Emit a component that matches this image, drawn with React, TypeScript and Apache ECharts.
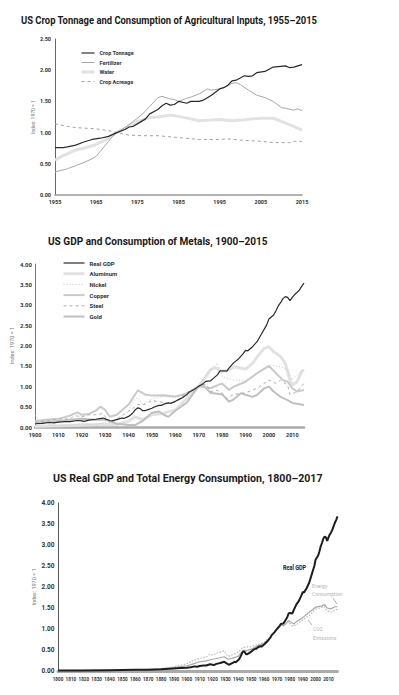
import React, { useEffect, useRef } from 'react';
import * as echarts from 'echarts';

type Pt = [number, number];

// ---------- Chart 1: US crop tonnage and agricultural inputs (index 1970 = 1)
const cropTonnage: Pt[] = [
  [1955, 0.76], [1957, 0.76], [1958, 0.77], [1960, 0.8], [1962, 0.85], [1964, 0.89], [1966, 0.91],
  [1968, 0.94], [1970, 1.0], [1972, 1.05], [1973, 1.09], [1974, 1.1], [1975, 1.14], [1977, 1.22],
  [1978, 1.3], [1980, 1.37], [1981, 1.43], [1982, 1.47], [1983, 1.44], [1984, 1.45], [1985, 1.5],
  [1987, 1.47], [1988, 1.5], [1990, 1.5], [1991, 1.52], [1993, 1.6], [1995, 1.7], [1996, 1.72],
  [1997, 1.76], [1998, 1.83], [1999, 1.84], [2001, 1.91], [2002, 1.9], [2003, 1.91], [2004, 1.96],
  [2006, 1.98], [2008, 2.05], [2011, 2.07], [2012, 2.04], [2013, 2.05], [2015, 2.09],
];
const fertilizer: Pt[] = [
  [1955, 0.37], [1958, 0.42], [1960, 0.47], [1962, 0.52], [1964, 0.58], [1965, 0.62], [1966, 0.7],
  [1967, 0.78], [1968, 0.86], [1969, 0.94], [1970, 1.0], [1972, 1.08], [1974, 1.18], [1976, 1.28],
  [1978, 1.42], [1980, 1.56], [1981, 1.58], [1982, 1.56], [1983, 1.54], [1984, 1.53], [1985, 1.5],
  [1987, 1.55], [1988, 1.57], [1990, 1.62], [1992, 1.7], [1993, 1.68], [1995, 1.7], [1997, 1.75],
  [1998, 1.79], [1999, 1.8], [2000, 1.77], [2002, 1.68], [2004, 1.6], [2006, 1.56], [2008, 1.5],
  [2010, 1.4], [2011, 1.39], [2013, 1.36], [2014, 1.38], [2015, 1.35],
];
const water: Pt[] = [
  [1955, 0.56], [1957, 0.63], [1960, 0.72], [1962, 0.75], [1965, 0.81], [1967, 0.87], [1970, 1.0],
  [1972, 1.07], [1975, 1.18], [1978, 1.24], [1980, 1.25], [1983, 1.28], [1985, 1.26], [1988, 1.22],
  [1990, 1.19], [1993, 1.2], [1995, 1.21], [1998, 1.19], [2000, 1.2], [2003, 1.22], [2005, 1.23],
  [2008, 1.23], [2010, 1.18], [2013, 1.1], [2015, 1.04],
];
const cropAcreage: Pt[] = [
  [1955, 1.14], [1958, 1.1], [1960, 1.08], [1965, 1.06], [1968, 1.03], [1970, 1.0], [1973, 0.96],
  [1976, 0.95], [1980, 0.95], [1985, 0.92], [1990, 0.89], [1995, 0.89], [1997, 0.9], [2000, 0.88],
  [2005, 0.86], [2008, 0.84], [2012, 0.84], [2013, 0.86], [2015, 0.86],
];

// ---------- Chart 2: US GDP and metals (index 1970 = 1)
const realGdp: Pt[] = [
  [1900, 0.08], [1903, 0.09], [1906, 0.11], [1908, 0.1], [1910, 0.12], [1913, 0.13], [1915, 0.13],
  [1918, 0.16], [1920, 0.15], [1921, 0.14], [1923, 0.17], [1926, 0.19], [1929, 0.22], [1930, 0.2],
  [1932, 0.16], [1933, 0.15], [1936, 0.2], [1937, 0.22], [1938, 0.21], [1940, 0.26], [1941, 0.3],
  [1942, 0.36], [1943, 0.43], [1944, 0.47], [1945, 0.45], [1946, 0.4], [1947, 0.4], [1948, 0.42],
  [1950, 0.46], [1951, 0.49], [1953, 0.53], [1954, 0.53], [1955, 0.56], [1957, 0.59], [1958, 0.58],
  [1960, 0.63], [1962, 0.69], [1963, 0.72], [1965, 0.8], [1966, 0.86], [1968, 0.92], [1969, 0.96],
  [1970, 1.0], [1972, 1.07], [1973, 1.12], [1975, 1.13], [1976, 1.18], [1978, 1.28], [1979, 1.37],
  [1980, 1.38], [1982, 1.37], [1983, 1.45], [1985, 1.58], [1987, 1.67], [1989, 1.8], [1990, 1.88],
  [1991, 1.87], [1993, 1.97], [1995, 2.1], [1997, 2.3], [1999, 2.5], [2000, 2.65], [2001, 2.7],
  [2002, 2.75], [2003, 2.85], [2004, 2.97], [2005, 3.05], [2006, 3.15], [2007, 3.2], [2008, 3.18],
  [2009, 3.1], [2010, 3.18], [2011, 3.25], [2012, 3.3], [2013, 3.36], [2014, 3.45], [2015, 3.53],
];
const gdpLate: Pt[] = [[2016, 3.6], [2017, 3.68]];
const aluminum: Pt[] = [
  [1900, 0.02], [1910, 0.03], [1920, 0.05], [1930, 0.07], [1935, 0.06], [1940, 0.14], [1943, 0.25],
  [1946, 0.18], [1950, 0.3], [1955, 0.34], [1960, 0.42], [1965, 0.7], [1968, 0.88], [1970, 1.0],
  [1973, 1.23], [1975, 1.4], [1977, 1.46], [1980, 1.36], [1983, 1.4], [1985, 1.48], [1988, 1.45],
  [1990, 1.42], [1993, 1.56], [1995, 1.72], [1998, 1.93], [2000, 1.97], [2002, 1.85], [2005, 1.73],
  [2007, 1.56], [2009, 1.15], [2010, 1.03], [2012, 1.11], [2014, 1.36], [2015, 1.4],
];
const nickel: Pt[] = [
  [1900, 0.3], [1902, 0.12], [1905, 0.08], [1910, 0.03], [1915, 0.04], [1920, 0.08], [1925, 0.05],
  [1930, 0.12], [1935, 0.15], [1940, 0.4], [1942, 0.65], [1944, 0.72], [1946, 0.55], [1950, 0.7],
  [1955, 0.75], [1960, 0.72], [1965, 0.85], [1970, 1.0], [1974, 1.35], [1978, 1.56], [1980, 1.24],
  [1985, 1.15], [1990, 1.15], [1995, 1.32], [2000, 1.52], [2005, 1.48], [2008, 1.4], [2010, 1.15],
  [2012, 1.28], [2015, 1.42],
];
const copper: Pt[] = [
  [1900, 0.15], [1905, 0.18], [1910, 0.2], [1915, 0.28], [1918, 0.36], [1920, 0.3], [1923, 0.32],
  [1926, 0.4], [1928, 0.5], [1930, 0.42], [1932, 0.25], [1935, 0.3], [1940, 0.55], [1944, 0.9],
  [1947, 0.8], [1950, 0.77], [1955, 0.78], [1960, 0.75], [1965, 0.82], [1970, 1.0], [1975, 0.95],
  [1980, 1.07], [1983, 0.91], [1985, 0.99], [1990, 1.11], [1995, 1.32], [2000, 1.5], [2003, 1.32],
  [2006, 1.15], [2008, 1.11], [2010, 0.95], [2012, 0.87], [2015, 0.91],
];
const steel: Pt[] = [
  [1900, 0.12], [1905, 0.15], [1910, 0.2], [1915, 0.2], [1917, 0.28], [1920, 0.25], [1923, 0.3],
  [1926, 0.3], [1929, 0.33], [1932, 0.1], [1935, 0.2], [1940, 0.38], [1944, 0.55], [1947, 0.55],
  [1950, 0.65], [1955, 0.6], [1960, 0.6], [1965, 0.85], [1970, 1.0], [1973, 1.05], [1975, 0.87],
  [1978, 0.9], [1980, 0.83], [1982, 0.7], [1985, 0.8], [1990, 0.84], [1995, 0.95], [2000, 1.15],
  [2003, 1.07], [2005, 1.15], [2008, 1.03], [2009, 0.79], [2012, 0.87], [2015, 1.07],
];
const gold: Pt[] = [
  [1900, 0.1], [1905, 0.12], [1910, 0.15], [1915, 0.18], [1920, 0.2], [1925, 0.18], [1930, 0.18],
  [1935, 0.08], [1940, 0.05], [1943, 0.05], [1946, 0.15], [1950, 0.35], [1953, 0.38], [1955, 0.3],
  [1957, 0.25], [1960, 0.4], [1965, 0.6], [1968, 0.85], [1970, 1.0], [1972, 1.02], [1975, 0.84],
  [1980, 0.8], [1983, 0.62], [1985, 0.68], [1988, 0.83], [1990, 0.79], [1993, 0.74], [1995, 0.79],
  [1998, 0.95], [2000, 0.99], [2002, 0.87], [2005, 0.74], [2008, 0.66], [2010, 0.59], [2015, 0.54],
];

// ---------- Chart 3: US real GDP and total energy, 1800-2017 (index 1970 = 1)
const gdpEarly: Pt[] = [
  [1800, 0.01], [1820, 0.01], [1840, 0.02], [1860, 0.03], [1870, 0.03], [1880, 0.04], [1890, 0.06],
  [1895, 0.07],
];
const energy: Pt[] = [
  [1800, 0.01], [1850, 0.02], [1870, 0.03], [1880, 0.05], [1890, 0.08], [1900, 0.12], [1905, 0.17],
  [1910, 0.22], [1915, 0.24], [1920, 0.28], [1925, 0.31], [1929, 0.34], [1932, 0.28], [1935, 0.3],
  [1940, 0.35], [1944, 0.5], [1946, 0.48], [1950, 0.52], [1955, 0.6], [1960, 0.66], [1965, 0.8],
  [1970, 1.0], [1973, 1.1], [1975, 1.07], [1979, 1.2], [1983, 1.12], [1985, 1.17], [1990, 1.27],
  [1995, 1.4], [2000, 1.52], [2005, 1.55], [2007, 1.58], [2009, 1.5], [2012, 1.48], [2015, 1.53],
  [2017, 1.53],
];
const co2: Pt[] = [
  [1800, 0.005], [1850, 0.02], [1880, 0.05], [1890, 0.1], [1900, 0.17], [1905, 0.25], [1910, 0.3],
  [1915, 0.33], [1918, 0.4], [1920, 0.38], [1923, 0.42], [1926, 0.45], [1929, 0.48], [1932, 0.35],
  [1935, 0.38], [1940, 0.45], [1943, 0.55], [1945, 0.57], [1950, 0.58], [1955, 0.63], [1960, 0.68],
  [1965, 0.82], [1970, 1.0], [1973, 1.12], [1975, 1.08], [1979, 1.17], [1982, 1.07], [1985, 1.1],
  [1990, 1.22], [1995, 1.32], [2000, 1.47], [2005, 1.52], [2007, 1.53], [2009, 1.43], [2012, 1.4],
  [2015, 1.45], [2017, 1.47],
];

const titles = [
  'US Crop Tonnage and Consumption of Agricultural Inputs, 1955\u20132015',
  'US GDP and Consumption of Metals, 1900\u20132015',
  'US Real GDP and Total Energy Consumption, 1800\u20132017',
];
const legend1 = ['Crop Tonnage', 'Fertilizer', 'Water', 'Crop Acreage'];
const legend2 = ['Real GDP', 'Aluminum', 'Nickel', 'Copper', 'Steel', 'Gold'];
const yName = 'Index: 1970 = 1';

const FONT = 'Roboto';

function measure(text: string, font: string) {
  const ctx = document.createElement('canvas').getContext('2d')!;
  ctx.font = font;
  return ctx.measureText(text).width;
}

export default function App() {
  const ref = useRef<HTMLDivElement>(null);
  useEffect(() => {
    document.body.style.margin = '0';
    const chart = echarts.init(ref.current!, undefined, { renderer: 'svg' });

    const titleSize = 10.5;
    const titleFont = `bold ${titleSize}px ${FONT}`;
    const titleSpecs = [
      { x: 21, y: 20, w: 297 },
      { x: 48, y: 241.5, w: 220 },
      { x: 53, y: 479, w: 270 },
    ];
    const titleGraphics = titles.map((t, i) => ({
      type: 'text',
      x: titleSpecs[i].x,
      y: titleSpecs[i].y,
      scaleX: titleSpecs[i].w / measure(t, titleFont),
      style: {
        text: t,
        fontFamily: FONT,
        fontWeight: 'bold',
        fontSize: titleSize,
        fill: '#1a1a1a',
        align: 'left',
        verticalAlign: 'middle',
      },
    }));

    const ann = (text: string, x: number, y: number, color: string, bold: boolean, size: number) => ({
      type: 'text',
      x,
      y,
      scaleX: 0.85,
      style: {
        text,
        fontFamily: FONT,
        fontWeight: bold ? 'bold' : 'normal',
        fontSize: size,
        fill: color,
        align: 'left',
        verticalAlign: 'middle',
      },
    });
    const leader = (x1: number, y1: number, x2: number, y2: number) => ({
      type: 'line',
      shape: { x1, y1, x2, y2 },
      style: { stroke: '#999', lineWidth: 0.8 },
    });

    const yLabel = (size: number, margin: number) => ({
      fontSize: size,
      fontFamily: FONT,
      fontWeight: 'bold',
      color: '#333',
      margin,
      formatter: (v: number) => v.toFixed(2),
    });
    const xLabel = (size: number, margin: number) => ({
      fontSize: size,
      fontFamily: FONT,
      fontWeight: 'bold',
      color: '#333',
      margin,
      showMaxLabel: false,
      formatter: (v: number) => String(v),
    });
    const nameStyle = (size: number) => ({ fontSize: size, fontFamily: FONT, color: '#777' });

    const line = (
      name: string,
      data: Pt[],
      idx: number,
      color: string,
      width: number,
      type: any = 'solid'
    ) => ({
      name,
      type: 'line',
      data,
      xAxisIndex: idx,
      yAxisIndex: idx,
      symbol: 'none',
      smooth: false,
      lineStyle: { color, width, type },
      itemStyle: { color },
      emphasis: { disabled: true },
    });

    const yAxisBase = {
      type: 'value', min: 0, interval: 0.5,
      axisTick: { show: false }, splitLine: { show: false },
      name: yName, nameLocation: 'middle', nameRotate: 90, nameMoveOverlap: false,
    };

    const option: any = {
      animation: false,
      backgroundColor: '#fff',
      textStyle: { fontFamily: FONT },
      grid: [
        { left: 55, top: 39, width: 247, height: 156, containLabel: false, outerBoundsMode: 'none' },
        { left: 35, top: 264, width: 269, height: 163, containLabel: false, outerBoundsMode: 'none' },
        { left: 58, top: 503, width: 279.5, height: 168, containLabel: false, outerBoundsMode: 'none' },
      ],
      xAxis: [
        {
          type: 'value', gridIndex: 0, min: 1955, max: 2015, interval: 10,
          axisLine: { lineStyle: { color: '#999', width: 1.5 } },
          axisTick: { show: false }, splitLine: { show: false },
          axisLabel: { ...xLabel(5.5, 4), showMaxLabel: true },
        },
        {
          type: 'value', gridIndex: 1, min: 1900, max: 2015, interval: 10,
          axisLine: { lineStyle: { color: '#aaa', width: 2.5 } },
          axisTick: { show: false }, splitLine: { show: false },
          axisLabel: xLabel(5.5, 5),
        },
        {
          type: 'value', gridIndex: 2, min: 1800, max: 2017, interval: 10,
          axisLine: { lineStyle: { color: '#aaa', width: 3 } },
          axisTick: { show: false }, splitLine: { show: false },
          axisLabel: xLabel(4.6, 6),
        },
      ],
      yAxis: [
        {
          ...yAxisBase, gridIndex: 0, max: 2.5,
          axisLine: { show: true, lineStyle: { color: '#666', width: 1 } },
          axisLabel: yLabel(5.5, 4),
          nameGap: 20, nameTextStyle: nameStyle(5),
        },
        {
          ...yAxisBase, gridIndex: 1, max: 4,
          axisLine: { show: true, lineStyle: { color: '#777', width: 1 } },
          axisLabel: yLabel(6, 3),
          nameGap: 20, nameTextStyle: nameStyle(5.5),
        },
        {
          ...yAxisBase, gridIndex: 2, max: 4,
          axisLine: { show: true, lineStyle: { color: '#555', width: 1 } },
          axisLabel: yLabel(6.5, 3.5),
          nameGap: 21, nameTextStyle: nameStyle(5.5),
        },
      ],
      legend: [
        {
          data: legend1, orient: 'vertical', left: 80, top: 50, padding: 0,
          itemWidth: 13, itemHeight: 5, itemGap: 3.5,
          lineStyle: { width: 'inherit' },
          itemStyle: { opacity: 0 },
          textStyle: { fontSize: 5.5, fontFamily: FONT, fontWeight: 'bold', color: '#333', lineHeight: 5 },
          selectedMode: false,
        },
        {
          data: legend2, orient: 'vertical', left: 62, top: 260, padding: 0,
          itemWidth: 21, itemHeight: 6, itemGap: 4.7,
          lineStyle: { width: 'inherit' },
          itemStyle: { opacity: 0 },
          textStyle: { fontSize: 6, fontFamily: FONT, fontWeight: 'bold', color: '#333', lineHeight: 6 },
          selectedMode: false,
        },
      ],
      graphic: [
        ...titleGraphics,
        ann('Real GDP', 283, 567, '#222', true, 6.5),
        ann('Energy', 312, 586, '#b5b5b5', false, 6),
        ann('Consumption', 312, 594, '#b5b5b5', false, 6),
        ann('CO2', 313, 629, '#b5b5b5', false, 6),
        ann('Emissions', 313, 638, '#b5b5b5', false, 6),
        leader(333, 598, 337, 604),
        leader(308, 620, 312, 625),
      ],
      series: [
        line('Water', water, 0, '#e2e2e2', 3),
        line('Crop Acreage', cropAcreage, 0, '#a0a0a0', 1, [3, 3]),
        line('Fertilizer', fertilizer, 0, '#a8a8a8', 1),
        line('Crop Tonnage', cropTonnage, 0, '#2b2b2b', 1.2),

        line('Aluminum', aluminum, 1, '#e2e2e2', 3),
        line('Gold', gold, 1, '#c0c0c0', 2),
        line('Copper', copper, 1, '#cacaca', 2),
        line('Steel', steel, 1, '#b0b0b0', 1, [3, 3]),
        line('Nickel', nickel, 1, '#c4c4c4', 1, [1, 2]),
        line('Real GDP', realGdp, 1, '#2b2b2b', 1.2),

        line('Energy Consumption', energy, 2, '#a8a8a8', 1.2),
        line('CO2 Emissions', co2, 2, '#b8b8b8', 1.2, [1.5, 1.5]),
        line('Real GDP (1800-2017)', [...gdpEarly, ...realGdp, ...gdpLate], 2, '#1e1e1e', 2),
      ],
    };
    chart.setOption(option);
    return () => chart.dispose();
  }, []);
  return <div ref={ref} style={{ position: 'absolute', left: 0, top: 0, width: 399, height: 695 }} />;
}
